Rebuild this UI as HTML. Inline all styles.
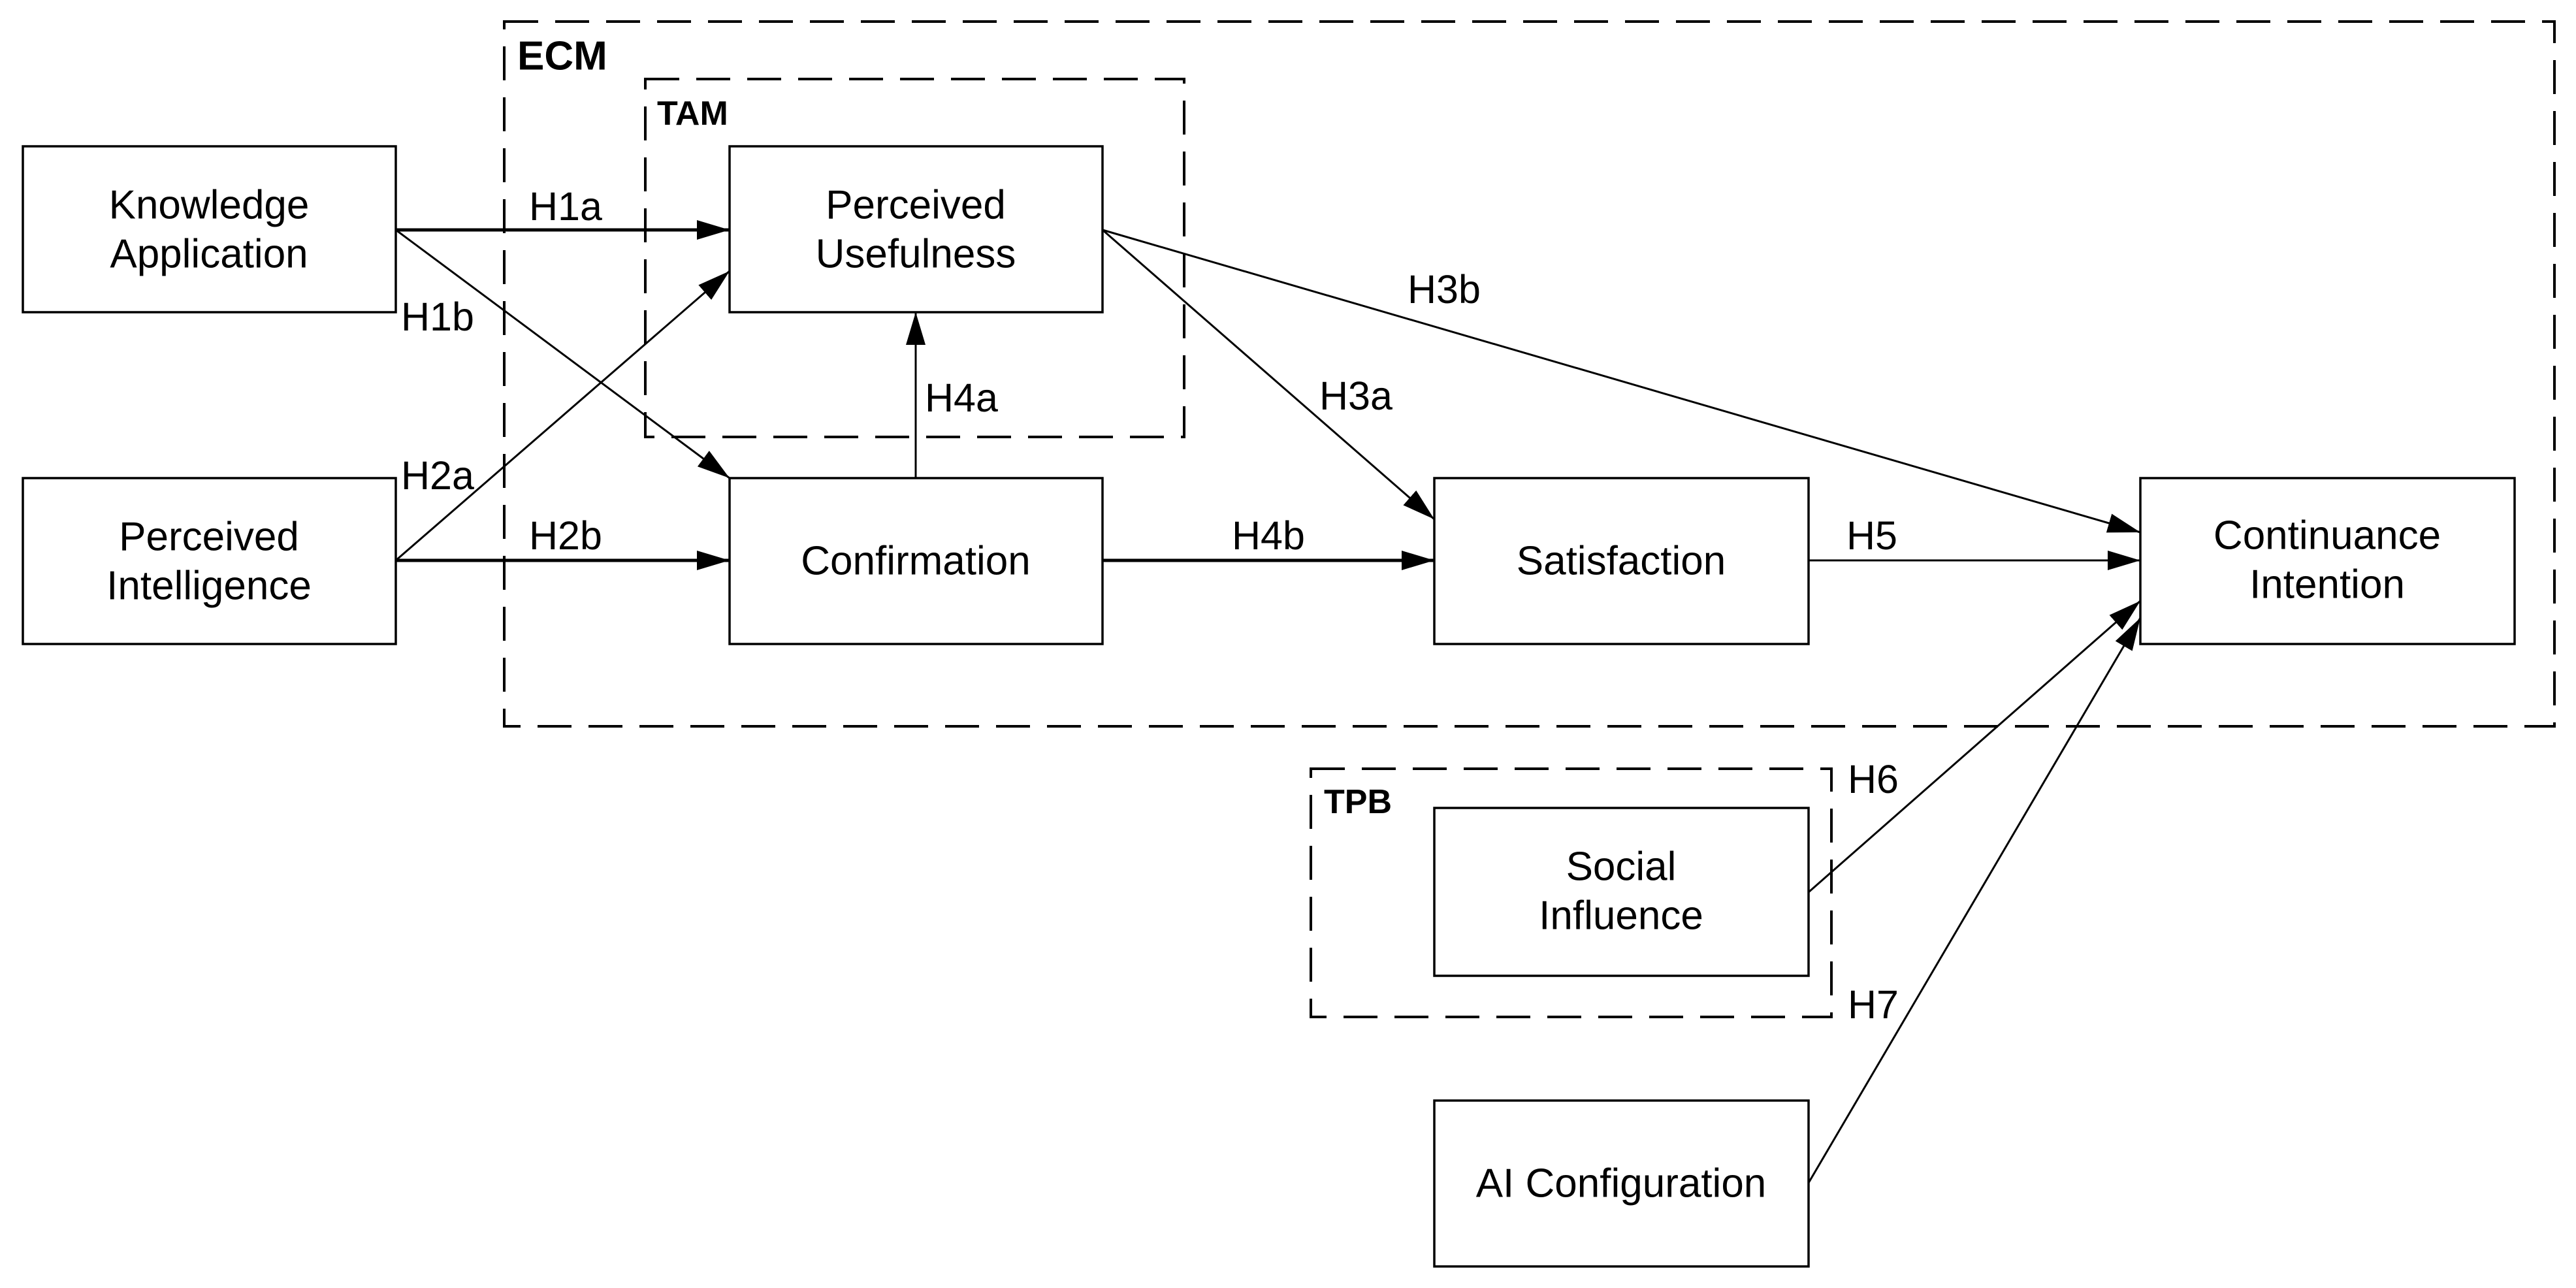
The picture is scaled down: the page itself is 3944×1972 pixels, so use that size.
<!DOCTYPE html>
<html><head><style>
html,body{margin:0;padding:0;background:#fff}
svg{display:block}
text{font-family:"Liberation Sans",Arial,sans-serif;fill:#000}
</style></head><body>
<svg width="3944" height="1972" viewBox="0 0 3944 1972" xmlns="http://www.w3.org/2000/svg">
<defs>
<marker id="a" markerUnits="userSpaceOnUse" markerWidth="52" markerHeight="34" refX="50" refY="17" orient="auto">
<path d="M0,2 L50,17 L0,32 Z" fill="#000"/>
</marker>
</defs>
<g fill="none" stroke="#000" stroke-width="4" stroke-dasharray="52,26">
<rect x="772" y="33" width="3139" height="1079"/>
<rect x="988" y="121" width="825" height="548"/>
<rect x="2007" y="1177" width="797" height="380"/>
</g>
<g fill="#fff" stroke="#000" stroke-width="3.5">
<rect x="35" y="224" width="571" height="254"/>
<rect x="35" y="732" width="571" height="254"/>
<rect x="1117" y="224" width="571" height="254"/>
<rect x="1117" y="732" width="571" height="254"/>
<rect x="2196" y="732" width="573" height="254"/>
<rect x="3277" y="732" width="573" height="254"/>
<rect x="2196" y="1237" width="573" height="257"/>
<rect x="2196" y="1685" width="573" height="254"/>
</g>
<g stroke="#000" stroke-width="3" fill="none" marker-end="url(#a)">
<line x1="606" y1="352" x2="1117" y2="352" stroke-width="5"/>
<line x1="606" y1="352" x2="1117" y2="732"/>
<line x1="606" y1="858" x2="1117" y2="415"/>
<line x1="606" y1="858" x2="1117" y2="858" stroke-width="5"/>
<line x1="1402" y1="732" x2="1402" y2="478"/>
<line x1="1688" y1="858" x2="2196" y2="858" stroke-width="5"/>
<line x1="1688" y1="352" x2="2196" y2="795"/>
<line x1="1688" y1="352" x2="3277" y2="815"/>
<line x1="2769" y1="858" x2="3277" y2="858"/>
<line x1="2769" y1="1366" x2="3277" y2="920"/>
<line x1="2769" y1="1811" x2="3277" y2="946"/>
</g>
<g font-size="62" text-anchor="middle" dominant-baseline="central">
<text x="320" y="314">Knowledge</text>
<text x="320" y="389">Application</text>
<text x="320" y="822">Perceived</text>
<text x="320" y="897">Intelligence</text>
<text x="1402" y="314">Perceived</text>
<text x="1402" y="389">Usefulness</text>
<text x="1402" y="859">Confirmation</text>
<text x="2482" y="859">Satisfaction</text>
<text x="3563" y="820">Continuance</text>
<text x="3563" y="895">Intention</text>
<text x="2482" y="1327">Social</text>
<text x="2482" y="1402">Influence</text>
<text x="2482" y="1812">AI Configuration</text>
</g>
<g font-size="61" dominant-baseline="central">
<text x="810" y="316">H1a</text>
<text x="614" y="485">H1b</text>
<text x="614" y="728">H2a</text>
<text x="810" y="820">H2b</text>
<text x="1416" y="609">H4a</text>
<text x="1886" y="820">H4b</text>
<text x="2020" y="606">H3a</text>
<text x="2155" y="443">H3b</text>
<text x="2827" y="820">H5</text>
<text x="2829" y="1193">H6</text>
<text x="2829" y="1538">H7</text>
</g>
<g font-weight="bold" dominant-baseline="central">
<text x="792" y="86" font-size="62">ECM</text>
<text x="1006" y="174" font-size="52">TAM</text>
<text x="2027" y="1228" font-size="52">TPB</text>
</g>
</svg>
</body></html>
